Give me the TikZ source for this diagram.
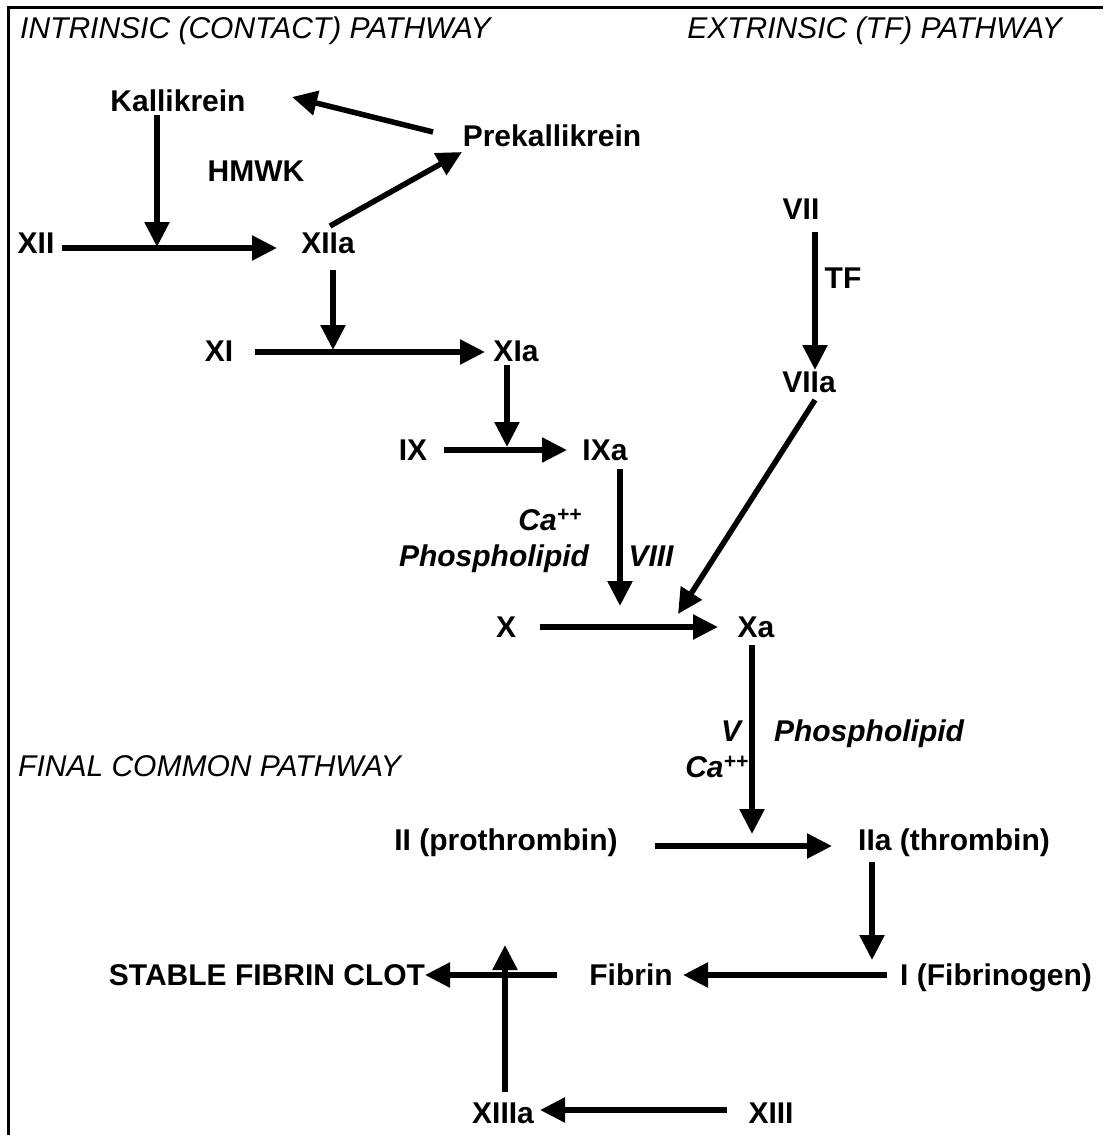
\documentclass[tikz,border=0pt]{standalone}
\usepackage{fontspec}
\setmainfont{Liberation Sans}
\usetikzlibrary{arrows.meta,calc}
\begin{document}
\begin{tikzpicture}[x=1pt,y=-1pt,
  lab/.style={font=\fontsize{30}{32}\selectfont\bfseries, inner sep=0pt, text height=21.5pt, text depth=0pt},
  ttl/.style={font=\fontsize{30}{32}\selectfont\itshape, inner sep=0pt, text height=21.5pt, text depth=0pt},
  cof/.style={font=\fontsize{30}{32}\selectfont\bfseries\itshape, inner sep=0pt, text height=21.5pt, text depth=0pt},
  arr/.style={line width=5.5pt, -{Triangle[length=25pt,width=24pt]}},
]
\useasboundingbox (0,0) rectangle (1103,1135);
\draw[line width=3pt] (8.5,1135) -- (8.5,7) -- (1103,7);

% titles
\node[ttl, anchor=west] (tin) at (20,28) {INTRINSIC (CONTACT) PATHWAY};
\node[ttl, anchor=east] (tex) at (1062,28) {EXTRINSIC (TF) PATHWAY};
\node[ttl, anchor=west] (fcp) at (18,766) {FINAL COMMON PATHWAY};

% factors
\node[lab] (kal) at (178,101) {Kallikrein};
\node[lab] (pre) at (552,136) {Prekallikrein};
\node[lab] (hmwk) at (256,171) {HMWK};
\node[lab] (xii) at (36,243) {XII};
\node[lab] (xiia) at (328,243) {XIIa};
\node[lab] (vii) at (801,209) {VII};
\node[lab] (tf) at (843,278) {TF};
\node[lab] (xi) at (219,351) {XI};
\node[lab] (xia) at (516,351) {XIa};
\node[lab] (viia) at (809,382) {VIIa};
\node[lab] (ix) at (413,450) {IX};
\node[lab] (ixa) at (605,450) {IXa};
\node[cof, anchor=east] (ca1) at (582,520) {Ca\textsuperscript{++}};
\node[cof] (ph1) at (494,556) {Phospholipid};
\node[cof] (viii) at (651,556) {VIII};
\node[lab] (x) at (506,627) {X};
\node[lab] (xa) at (756,627) {Xa};
\node[cof] (v) at (731,731) {V};
\node[cof] (ph2) at (869,731) {Phospholipid};
\node[cof] (ca2) at (717,767) {Ca\textsuperscript{++}};
\node[lab] (ii) at (506,840) {II (prothrombin)};
\node[lab] (iia) at (954,840) {IIa (thrombin)};
\node[lab] (sfc) at (267,975) {STABLE FIBRIN CLOT};
\node[lab] (fib) at (631,975) {Fibrin};
\node[lab] (ifg) at (996,975) {I (Fibrinogen)};
\node[lab] (xiiia) at (503,1113) {XIIIa};
\node[lab] (xiii) at (771,1113) {XIII};

% junctions on reaction arrows
\coordinate (j1) at (157,247);
\coordinate (j2) at (333,350);
\coordinate (j3) at (507,447);
\coordinate (j4) at (678,614);
\coordinate (j5) at (620,606);
\coordinate (j6) at (752,834);
\coordinate (j7) at (505,945);

% arrows
\draw[arr] ($(kal)+(-21,14)$) -- (j1);
\draw[arr] ($(xii)+(26,5)$) -- ($(xiia)+(-51,5)$);
\draw[arr] ($(xiia)+(2,-17)$) -- ($(pre)+(-90,16)$);
\draw[arr] ($(pre)+(-119,-4)$) -- ($(kal)+(114,-4)$);
\draw[arr] ($(xiia)+(5,27)$) -- (j2);
\draw[arr] ($(xi)+(36,1)$) -- ($(xia)+(-31,1)$);
\draw[arr] ($(xia)+(-9,14)$) -- (j3);
\draw[arr] ($(ix)+(31,0)$) -- ($(ixa)+(-38,0)$);
\draw[arr] ($(vii)+(14,23)$) -- ($(viia)+(6,-12)$);
\draw[arr] ($(viia)+(6,18)$) -- (j4);
\draw[arr] ($(ixa)+(15,19)$) -- (j5);
\draw[arr] ($(x)+(34,0)$) -- ($(xa)+(-38,0)$);
\draw[arr] ($(xa)+(-4,18)$) -- (j6);
\draw[arr] ($(ii)+(149,6)$) -- ($(iia)+(-122,6)$);
\draw[arr] ($(iia)+(-82,22)$) -- ($(ifg)+(-124,-15)$);
\draw[arr] ($(ifg)+(-109,0)$) -- ($(fib)+(52,0)$);
\draw[arr] ($(fib)+(-74,0)$) -- ($(sfc)+(158,0)$);
\draw[arr] ($(xiiia)+(2,-21)$) -- (j7);
\draw[arr] ($(xiii)+(-44,-3)$) -- ($(xiiia)+(37,-3)$);
\end{tikzpicture}
\end{document}
